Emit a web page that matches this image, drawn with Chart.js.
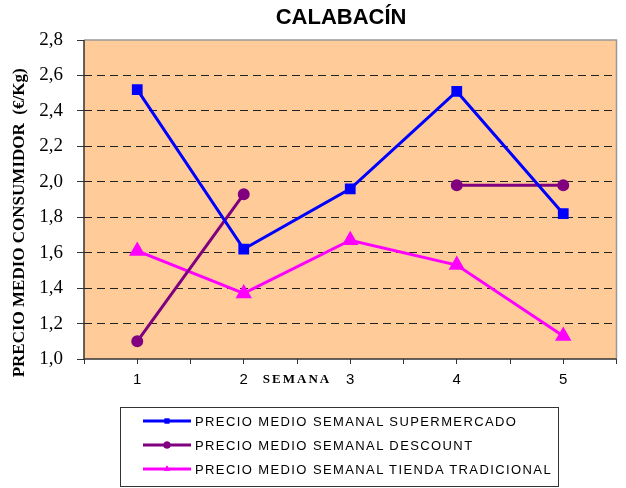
<!DOCTYPE html>
<html lang="es">
<head>
<meta charset="utf-8">
<title>CALABACÍN</title>
<script src="https://cdn.jsdelivr.net/npm/chart.js@4.4.1/dist/chart.umd.min.js"></script>
<style>
  html, body { margin: 0; padding: 0; background: #fff; overflow: hidden; }
  #wrap { position: relative; width: 626px; height: 488px; overflow: hidden; }
  #chart { position: absolute; left: 0; top: 0; }
  #legend {
    position: absolute; left: 120px; top: 407px; width: 437px; height: 77px;
    border: 1px solid #333; padding-top: 1px; box-sizing: content-box;
    font-family: Arial, "Liberation Sans", sans-serif; font-size: 13px; color: #000;
    letter-spacing: 1.4px;
  }
  #legend .item { height: 24px; display: flex; align-items: center; }
  #legend canvas { margin-left: 22px; margin-right: 4px; }
</style>
</head>
<body>
<div id="wrap">
  <canvas id="chart" width="626" height="400"></canvas>
  <div id="legend"></div>
</div>
<script>
(function () {
    'use strict';

    // ── Data ──────────────────────────────────────────────────────
    const WEEKS = [1, 2, 3, 4, 5];
    const SUPERMERCADO = [2.52, 1.62, 1.96, 2.51, 1.82];
    const DESCOUNT = [1.10, 1.93, null, 1.98, 1.98];
    const TIENDA = [1.61, 1.37, 1.67, 1.53, 1.13];
    const LABELS = [
        'PRECIO MEDIO SEMANAL SUPERMERCADO',
        'PRECIO MEDIO SEMANAL DESCOUNT',
        'PRECIO MEDIO SEMANAL TIENDA TRADICIONAL'
    ];
    const Y_MIN = 1.0, Y_MAX = 2.8, Y_STEP = 0.2;

    const SERIF = '"Liberation Serif", "Times New Roman", serif';
    const SANS = 'Arial, "Liberation Sans", sans-serif';
    const AXIS = '#333';
    const PLOT_RIGHT = 625;

    function pts(vals) {
        return WEEKS.map(function (w, i) { return { x: w, y: vals[i] }; });
    }

    // ── Plugins: plot fill, frame, axis caption ───────────────────
    const plotBg = {
        id: 'plotBg',
        beforeDraw: function (chart) {
            const a = chart.chartArea, c = chart.ctx;
            c.save();
            c.fillStyle = '#FFCC99';
            c.fillRect(a.left, a.top, a.right - a.left, a.bottom - a.top);
            c.restore();
        }
    };
    const frame = {
        id: 'frame',
        afterDraw: function (chart) {
            const a = chart.chartArea, c = chart.ctx;
            c.save();
            c.strokeStyle = '#999';
            c.lineWidth = 1.5;
            c.beginPath();
            c.moveTo(a.left, a.top);
            c.lineTo(a.right, a.top);
            c.lineTo(a.right, a.bottom);
            c.stroke();
            // axis lines, kept solid
            c.strokeStyle = AXIS;
            c.beginPath();
            c.moveTo(a.left, a.top);
            c.lineTo(a.left, a.bottom);
            c.lineTo(a.right, a.bottom);
            c.stroke();
            c.restore();
        }
    };
    const semana = {
        id: 'semana',
        afterDraw: function (chart) {
            const c = chart.ctx, x = chart.scales.x;
            c.save();
            c.font = 'bold 13px ' + SERIF;
            c.fillStyle = '#000';
            c.textAlign = 'center';
            c.textBaseline = 'middle';
            if ('letterSpacing' in c) c.letterSpacing = '2px';
            c.fillText('SEMANA', x.getPixelForValue(2.5), 380);
            c.restore();
        }
    };

    const chart = new Chart(document.getElementById('chart'), {
        type: 'line',
        data: {
            datasets: [
                {
                    label: LABELS[0], data: pts(SUPERMERCADO),
                    borderColor: '#0000FF', backgroundColor: '#0000FF',
                    borderWidth: 3, pointStyle: 'rect', pointRadius: 5.5, tension: 0
                },
                {
                    label: LABELS[1], data: pts(DESCOUNT),
                    borderColor: '#800080', backgroundColor: '#800080',
                    borderWidth: 3, pointStyle: 'circle', pointRadius: 4.5, tension: 0,
                    spanGaps: false
                },
                {
                    label: LABELS[2], data: pts(TIENDA),
                    borderColor: '#FF00FF', backgroundColor: '#FF00FF',
                    borderWidth: 3, pointStyle: 'triangle', pointRadius: 6.5, tension: 0
                }
            ]
        },
        options: {
            responsive: false,
            animation: false,
            layout: { padding: { left: 0, right: 1, top: 0, bottom: 0 } },
            plugins: {
                legend: { display: false },
                tooltip: { enabled: false },
                title: {
                    display: true, text: 'CALABACÍN' + '\u00a0'.repeat(3), fullSize: false,
                    color: '#000', font: { family: SANS, size: 22, weight: 'bold' },
                    padding: { top: 5, bottom: 8.6 }
                }
            },
            scales: {
                x: {
                    type: 'linear', min: 0.5, max: 5.5,
                    afterFit: function (s) { s.height = 41; s.paddingLeft = 0; s.paddingRight = 0; },
                    ticks: {
                        stepSize: 0.5, autoSkip: false, maxRotation: 0, padding: 7,
                        color: '#000', font: { family: SANS, size: 15 },
                        callback: function (v) { return Number.isInteger(v) ? String(v) : ''; }
                    },
                    grid: { drawOnChartArea: false, tickLength: 5, color: AXIS, lineWidth: 1 },
                    border: { display: false }
                },
                y: {
                    min: Y_MIN, max: Y_MAX,
                    afterFit: function (s) { s.width = 84; },
                    ticks: {
                        stepSize: Y_STEP, padding: 14,
                        color: '#000', font: { family: SERIF, size: 19 },
                        callback: function (v) { return v.toFixed(1).replace('.', ','); }
                    },
                    grid: {
                        tickLength: 7,
                        color: function (ctx) {
                            const v = ctx.tick ? ctx.tick.value : null;
                            if (v === null) return 'transparent';
                            if (Math.abs(v - Y_MIN) < 1e-6 || Math.abs(v - Y_MAX) < 1e-6) return 'transparent';
                            return '#222';
                        },
                        tickColor: AXIS,
                        tickBorderDash: [],
                        lineWidth: 1
                    },
                    border: { display: false, dash: [8, 5] },
                    title: {
                        display: true,
                        text: 'PRECIO MEDIO CONSUMIDOR  (€/Kg)' + '\u00a0'.repeat(11),
                        color: '#000', font: { family: SERIF, size: 17, weight: 'bold' },
                        padding: { top: 9, bottom: 0 }
                    }
                }
            }
        },
        plugins: [plotBg, frame, semana]
    });

    // the layout keeps a few px on the right; widen the canvas (clipped by #wrap)
    // so the plot reaches the right edge like the reference
    const gap = PLOT_RIGHT - chart.chartArea.right;
    if (gap > 0.5) chart.resize(626 + Math.round(gap), 400);

    // ── HTML legend built from the datasets ───────────────────────
    const box = document.getElementById('legend');
    chart.data.datasets.forEach(function (ds) {
        const row = document.createElement('div');
        row.className = 'item';
        const sw = document.createElement('canvas');
        sw.width = 48; sw.height = 12;
        const c = sw.getContext('2d');
        c.strokeStyle = ds.borderColor;
        c.fillStyle = ds.backgroundColor;
        c.lineWidth = 3;
        c.beginPath(); c.moveTo(0, 6); c.lineTo(48, 6); c.stroke();
        Chart.helpers.drawPoint(c, { pointStyle: ds.pointStyle, radius: 3.5, borderWidth: 0, rotation: 0 }, 24, 6);
        c.fill();
        const txt = document.createElement('span');
        txt.textContent = ds.label;
        row.appendChild(sw);
        row.appendChild(txt);
        box.appendChild(row);
    });
})();
</script>
</body>
</html>
